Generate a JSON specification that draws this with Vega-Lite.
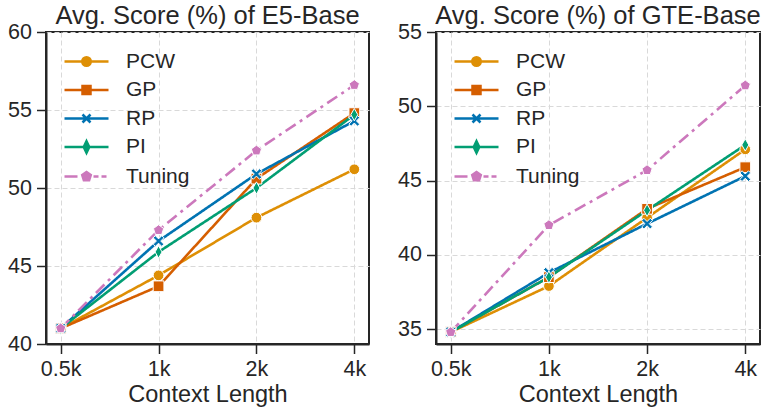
{
  "$schema": "https://vega.github.io/schema/vega-lite/v6.json",
  "padding": {"left": 6, "right": 4, "top": 2, "bottom": 0},
  "background": "white",
  "datasets": {
    "scores": [
      {"model": "E5-Base", "length": "0.5k", "method": "PCW", "score": 41.0},
      {"model": "E5-Base", "length": "1k", "method": "PCW", "score": 44.4},
      {"model": "E5-Base", "length": "2k", "method": "PCW", "score": 48.1},
      {"model": "E5-Base", "length": "4k", "method": "PCW", "score": 51.2},
      {"model": "E5-Base", "length": "0.5k", "method": "GP", "score": 41.0},
      {"model": "E5-Base", "length": "1k", "method": "GP", "score": 43.7},
      {"model": "E5-Base", "length": "2k", "method": "GP", "score": 50.6},
      {"model": "E5-Base", "length": "4k", "method": "GP", "score": 54.8},
      {"model": "E5-Base", "length": "0.5k", "method": "RP", "score": 41.0},
      {"model": "E5-Base", "length": "1k", "method": "RP", "score": 46.6},
      {"model": "E5-Base", "length": "2k", "method": "RP", "score": 50.9},
      {"model": "E5-Base", "length": "4k", "method": "RP", "score": 54.3},
      {"model": "E5-Base", "length": "0.5k", "method": "PI", "score": 41.0},
      {"model": "E5-Base", "length": "1k", "method": "PI", "score": 45.9},
      {"model": "E5-Base", "length": "2k", "method": "PI", "score": 50.0},
      {"model": "E5-Base", "length": "4k", "method": "PI", "score": 54.7},
      {"model": "E5-Base", "length": "0.5k", "method": "Tuning", "score": 41.0},
      {"model": "E5-Base", "length": "1k", "method": "Tuning", "score": 47.3},
      {"model": "E5-Base", "length": "2k", "method": "Tuning", "score": 52.4},
      {"model": "E5-Base", "length": "4k", "method": "Tuning", "score": 56.6},
      {"model": "GTE-Base", "length": "0.5k", "method": "PCW", "score": 34.8},
      {"model": "GTE-Base", "length": "1k", "method": "PCW", "score": 37.9},
      {"model": "GTE-Base", "length": "2k", "method": "PCW", "score": 42.5},
      {"model": "GTE-Base", "length": "4k", "method": "PCW", "score": 47.1},
      {"model": "GTE-Base", "length": "0.5k", "method": "GP", "score": 34.8},
      {"model": "GTE-Base", "length": "1k", "method": "GP", "score": 38.5},
      {"model": "GTE-Base", "length": "2k", "method": "GP", "score": 43.1},
      {"model": "GTE-Base", "length": "4k", "method": "GP", "score": 45.9},
      {"model": "GTE-Base", "length": "0.5k", "method": "RP", "score": 34.8},
      {"model": "GTE-Base", "length": "1k", "method": "RP", "score": 38.8},
      {"model": "GTE-Base", "length": "2k", "method": "RP", "score": 42.1},
      {"model": "GTE-Base", "length": "4k", "method": "RP", "score": 45.3},
      {"model": "GTE-Base", "length": "0.5k", "method": "PI", "score": 34.8},
      {"model": "GTE-Base", "length": "1k", "method": "PI", "score": 38.5},
      {"model": "GTE-Base", "length": "2k", "method": "PI", "score": 43.0},
      {"model": "GTE-Base", "length": "4k", "method": "PI", "score": 47.4},
      {"model": "GTE-Base", "length": "0.5k", "method": "Tuning", "score": 34.8},
      {"model": "GTE-Base", "length": "1k", "method": "Tuning", "score": 42.0},
      {"model": "GTE-Base", "length": "2k", "method": "Tuning", "score": 45.7},
      {"model": "GTE-Base", "length": "4k", "method": "Tuning", "score": 51.4}
    ]
  },
  "hconcat": [
    {
      "width": 323,
      "height": 312,
      "view": {"stroke": "#262626", "strokeWidth": 2},
      "title": {"text": "Avg. Score (%) of E5-Base"},
      "data": {"name": "scores"},
      "transform": [{"filter": "datum.model == 'E5-Base'"}],
      "encoding": {
        "x": {"field": "length", "type": "ordinal", "sort": ["0.5k", "1k", "2k", "4k"], "scale": {"type": "point", "padding": 0.15}, "title": "Context Length", "axis": {"labelAngle": 0}},
        "y": {"field": "score", "type": "quantitative", "scale": {"domain": [40, 60], "nice": false, "zero": false}, "axis": {"values": [40, 45, 50, 55, 60]}, "title": null}
      },
      "layer": [
        {
          "mark": {"type": "line", "strokeWidth": 2.6},
          "encoding": {
            "color": {"field": "method", "type": "nominal", "legend": null, "scale": {"domain": ["PCW", "GP", "RP", "PI", "Tuning"], "range": ["#de8f05", "#d55e00", "#0173b2", "#029e73", "#cc78bc"]}},
            "strokeDash": {"field": "method", "type": "nominal", "scale": {"domain": ["PCW", "GP", "RP", "PI", "Tuning"], "range": [[1, 0], [1, 0], [1, 0], [1, 0], [12, 5, 3, 5]]}, "legend": null}
          }
        },
        {
          "mark": {"type": "point", "filled": true, "opacity": 1, "stroke": "white", "strokeWidth": 1, "size": 115},
          "encoding": {
            "color": {"field": "method", "type": "nominal", "legend": null, "scale": {"domain": ["PCW", "GP", "RP", "PI", "Tuning"], "range": ["#de8f05", "#d55e00", "#0173b2", "#029e73", "#cc78bc"]}},
            "shape": {"field": "method", "type": "nominal", "legend": null, "scale": {"domain": ["PCW", "GP", "RP", "PI", "Tuning"], "range": ["circle", "square", "M-1,-0.6L-0.6,-1L0,-0.4L0.6,-1L1,-0.6L0.4,0L1,0.6L0.6,1L0,0.4L-0.6,1L-1,0.6L-0.4,0Z", "M0,-1.15L0.65,0L0,1.15L-0.65,0Z", "M0,-1L0.95,-0.31L0.59,0.81L-0.59,0.81L-0.95,-0.31Z"]}}
          }
        },
        {
          "transform": [{"filter": "datum.length == '1k'"}],
          "mark": {"type": "point", "opacity": 0, "size": 100, "strokeWidth": 2.5},
          "encoding": {
            "fill": {"field": "method", "type": "nominal", "scale": {"domain": ["PCW", "GP", "RP", "PI", "Tuning"], "range": ["#de8f05", "#d55e00", "#0173b2", "#029e73", "#cc78bc"]},
              "legend": {"title": null, "orient": "top-left", "offset": 19, "padding": 0, "symbolSize": 100, "symbolOffset": 11, "labelFontSize": 21, "labelOffset": 29, "rowPadding": 6.5, "symbolStrokeWidth": 2.5, "symbolOpacity": 1}},
            "stroke": {"field": "method", "type": "nominal", "scale": {"domain": ["PCW", "GP", "RP", "PI", "Tuning"], "range": ["#de8f05", "#d55e00", "#0173b2", "#029e73", "#cc78bc"]},
              "legend": {"title": null, "orient": "top-left", "offset": 19, "padding": 0, "symbolSize": 100, "symbolOffset": 11, "labelFontSize": 21, "labelOffset": 29, "rowPadding": 6.5, "symbolStrokeWidth": 2.5, "symbolOpacity": 1}},
            "shape": {"field": "method", "type": "nominal",
              "scale": {"domain": ["PCW", "GP", "RP", "PI", "Tuning"], "range": [
                "M-4.4,0L-0.9,0M0.9,0L4.4,0M0.85,0A0.85,0.85 0 1,1 -0.85,0A0.85,0.85 0 1,1 0.85,0Z",
                "M-4.4,0L-0.8,0M0.8,0L4.4,0M-0.8,-0.8L0.8,-0.8L0.8,0.8L-0.8,0.8Z",
                "M-4.4,0L4.4,0M-0.8,-0.8L0.8,0.8M0.8,-0.8L-0.8,0.8",
                "M-4.4,0L-0.55,0M0.55,0L4.4,0M0,-1.15L0.55,0L0,1.15L-0.55,0Z",
                "M-4.4,0L-1.8,0M1.4,0L2.4,0M3,0L4,0M0,-0.9L0.86,-0.28L0.53,0.73L-0.53,0.73L-0.86,-0.28Z"]},
              "legend": {"title": null, "orient": "top-left", "offset": 19, "padding": 0, "symbolSize": 100, "symbolOffset": 11, "labelFontSize": 21, "labelOffset": 29, "rowPadding": 6.5, "symbolStrokeWidth": 2.5, "symbolOpacity": 1}
            }
          }
        }
      ],
      "resolve": {"scale": {"shape": "independent", "fill": "independent", "stroke": "independent"}}
    },
    {
      "width": 324,
      "height": 312,
      "view": {"stroke": "#262626", "strokeWidth": 2},
      "title": {"text": "Avg. Score (%) of GTE-Base"},
      "data": {"name": "scores"},
      "transform": [{"filter": "datum.model == 'GTE-Base'"}],
      "encoding": {
        "x": {"field": "length", "type": "ordinal", "sort": ["0.5k", "1k", "2k", "4k"], "scale": {"type": "point", "padding": 0.15}, "title": "Context Length", "axis": {"labelAngle": 0}},
        "y": {"field": "score", "type": "quantitative", "scale": {"domain": [34, 55], "nice": false, "zero": false}, "axis": {"values": [35, 40, 45, 50, 55]}, "title": null}
      },
      "layer": [
        {
          "mark": {"type": "line", "strokeWidth": 2.6},
          "encoding": {
            "color": {"field": "method", "type": "nominal", "legend": null, "scale": {"domain": ["PCW", "GP", "RP", "PI", "Tuning"], "range": ["#de8f05", "#d55e00", "#0173b2", "#029e73", "#cc78bc"]}},
            "strokeDash": {"field": "method", "type": "nominal", "scale": {"domain": ["PCW", "GP", "RP", "PI", "Tuning"], "range": [[1, 0], [1, 0], [1, 0], [1, 0], [12, 5, 3, 5]]}, "legend": null}
          }
        },
        {
          "mark": {"type": "point", "filled": true, "opacity": 1, "stroke": "white", "strokeWidth": 1, "size": 115},
          "encoding": {
            "color": {"field": "method", "type": "nominal", "legend": null, "scale": {"domain": ["PCW", "GP", "RP", "PI", "Tuning"], "range": ["#de8f05", "#d55e00", "#0173b2", "#029e73", "#cc78bc"]}},
            "shape": {"field": "method", "type": "nominal", "legend": null, "scale": {"domain": ["PCW", "GP", "RP", "PI", "Tuning"], "range": ["circle", "square", "M-1,-0.6L-0.6,-1L0,-0.4L0.6,-1L1,-0.6L0.4,0L1,0.6L0.6,1L0,0.4L-0.6,1L-1,0.6L-0.4,0Z", "M0,-1.15L0.65,0L0,1.15L-0.65,0Z", "M0,-1L0.95,-0.31L0.59,0.81L-0.59,0.81L-0.95,-0.31Z"]}}
          }
        },
        {
          "transform": [{"filter": "datum.length == '1k'"}],
          "mark": {"type": "point", "opacity": 0, "size": 100, "strokeWidth": 2.5},
          "encoding": {
            "fill": {"field": "method", "type": "nominal", "scale": {"domain": ["PCW", "GP", "RP", "PI", "Tuning"], "range": ["#de8f05", "#d55e00", "#0173b2", "#029e73", "#cc78bc"]},
              "legend": {"title": null, "orient": "top-left", "offset": 19, "padding": 0, "symbolSize": 100, "symbolOffset": 11, "labelFontSize": 21, "labelOffset": 29, "rowPadding": 6.5, "symbolStrokeWidth": 2.5, "symbolOpacity": 1}},
            "stroke": {"field": "method", "type": "nominal", "scale": {"domain": ["PCW", "GP", "RP", "PI", "Tuning"], "range": ["#de8f05", "#d55e00", "#0173b2", "#029e73", "#cc78bc"]},
              "legend": {"title": null, "orient": "top-left", "offset": 19, "padding": 0, "symbolSize": 100, "symbolOffset": 11, "labelFontSize": 21, "labelOffset": 29, "rowPadding": 6.5, "symbolStrokeWidth": 2.5, "symbolOpacity": 1}},
            "shape": {"field": "method", "type": "nominal",
              "scale": {"domain": ["PCW", "GP", "RP", "PI", "Tuning"], "range": [
                "M-4.4,0L-0.9,0M0.9,0L4.4,0M0.85,0A0.85,0.85 0 1,1 -0.85,0A0.85,0.85 0 1,1 0.85,0Z",
                "M-4.4,0L-0.8,0M0.8,0L4.4,0M-0.8,-0.8L0.8,-0.8L0.8,0.8L-0.8,0.8Z",
                "M-4.4,0L4.4,0M-0.8,-0.8L0.8,0.8M0.8,-0.8L-0.8,0.8",
                "M-4.4,0L-0.55,0M0.55,0L4.4,0M0,-1.15L0.55,0L0,1.15L-0.55,0Z",
                "M-4.4,0L-1.8,0M1.4,0L2.4,0M3,0L4,0M0,-0.9L0.86,-0.28L0.53,0.73L-0.53,0.73L-0.86,-0.28Z"]},
              "legend": {"title": null, "orient": "top-left", "offset": 19, "padding": 0, "symbolSize": 100, "symbolOffset": 11, "labelFontSize": 21, "labelOffset": 29, "rowPadding": 6.5, "symbolStrokeWidth": 2.5, "symbolOpacity": 1}
            }
          }
        }
      ],
      "resolve": {"scale": {"shape": "independent", "fill": "independent", "stroke": "independent"}}
    }
  ],
  "spacing": 26,
  "resolve": {"scale": {"y": "independent", "color": "independent", "shape": "independent", "strokeDash": "independent", "fill": "independent", "stroke": "independent"}, "legend": {"shape": "independent", "fill": "independent", "stroke": "independent"}},
  "config": {
    "font": "Liberation Sans",
    "view": {"stroke": "#262626", "strokeWidth": 2},
    "title": {"fontSize": 25.5, "fontWeight": "normal", "color": "#262626", "offset": -8, "anchor": "middle"},
    "axis": {
      "domain": true,
      "domainColor": "#262626",
      "domainWidth": 2,
      "grid": true,
      "gridColor": "#d9d9d9",
      "gridDash": [5, 3],
      "gridWidth": 1,
      "tickColor": "#262626",
      "tickWidth": 1.5,
      "tickSize": 9.5,
      "labelFontSize": 21.5,
      "labelColor": "#262626",
      "labelPadding": 5,
      "titleFontSize": 23.5,
      "titleFontWeight": "normal",
      "titleColor": "#262626",
      "titlePadding": 2
    },
    "legend": {"labelColor": "#262626", "labelFont": "Liberation Sans"}
  }
}
